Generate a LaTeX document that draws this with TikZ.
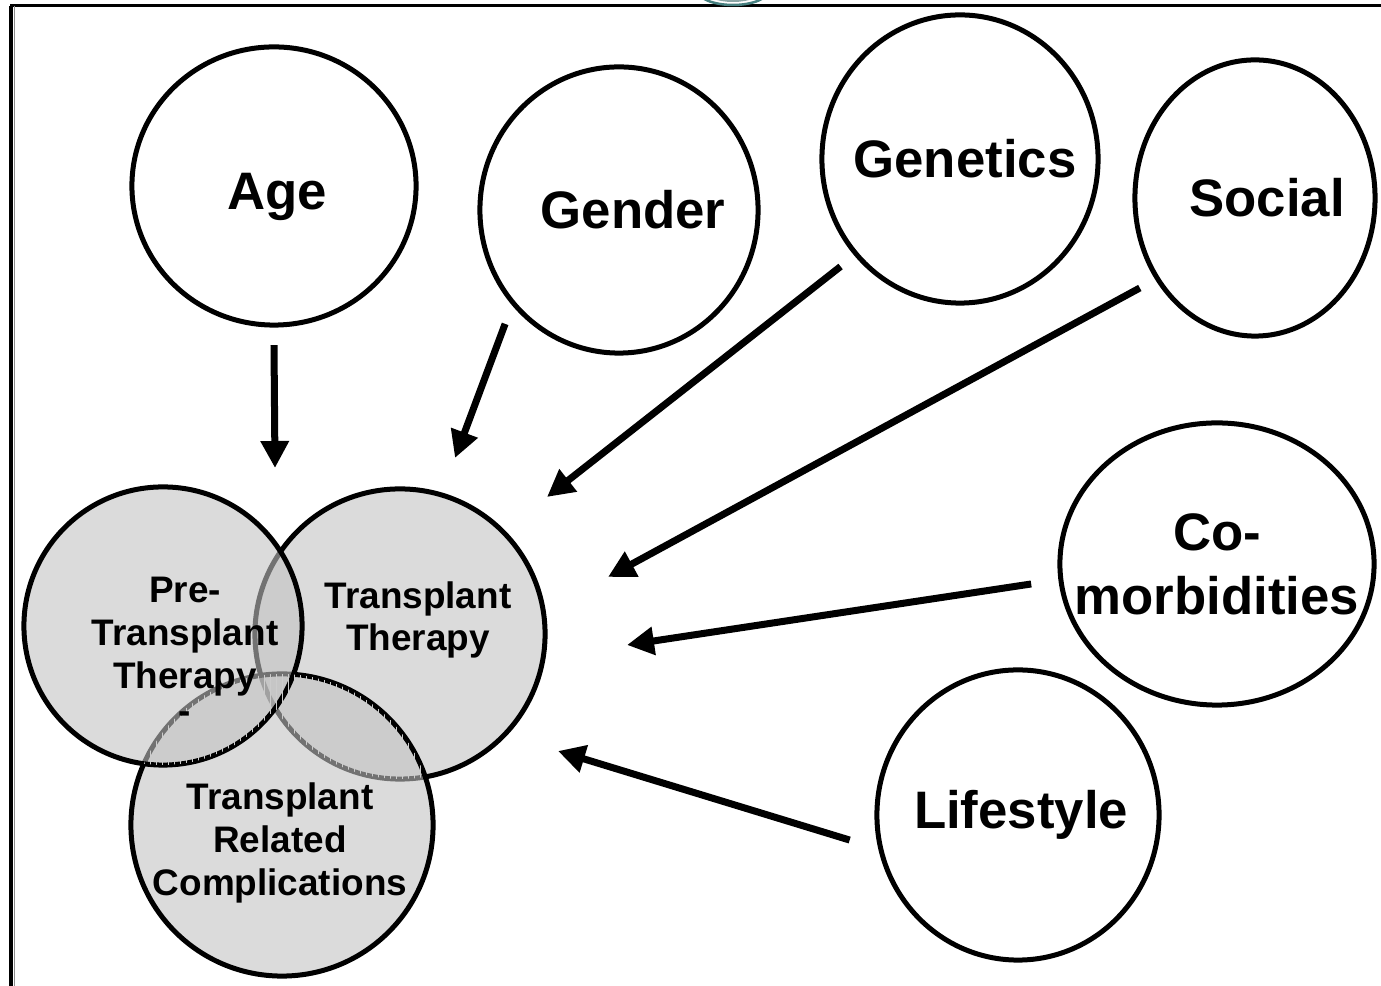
\documentclass[tikz,border=0pt]{standalone}
\usepackage{fontspec}
\setmainfont{Liberation Sans}
\usetikzlibrary{shapes.geometric, arrows.meta, positioning}
\tikzstyle{factor} = [ellipse, draw=black, line width=0.05cm, inner sep=0pt, outer sep=0.2cm, align=center, font=\fontsize{15}{18.2}\selectfont\bfseries]
\tikzstyle{venn} = [circle, draw=black, line width=0.05cm, fill=black!24, fill opacity=0.59, inner sep=0pt]
\tikzstyle{venntext} = [align=center, font=\fontsize{10.5}{12.2}\selectfont\bfseries]
\tikzstyle{hatch} = [black!20, line width=0.004cm]
\tikzstyle{arrow} = [line width=0.07cm, -{Triangle[length=0.27cm, width=0.27cm]}]
% text that does not widen its circle (optional shift to the right)
\newcommand{\ctr}[2][0pt]{\makebox[0pt]{\hspace*{#1}#2}}

\begin{document}
\begin{tikzpicture}[x=0.01cm, y=-0.01cm]
\useasboundingbox (0,0) rectangle (1381,986);
% frame and clipped mark at the top
\draw[line width=0.03cm] (10,6) -- (1381,6);
\draw[line width=0.03cm] (11,6) -- (11,986);
\draw[black!45, line width=0.015cm] (14.5,6) -- (14.5,986);
\draw[teal!45!gray, line width=0.025cm] (733,-10) ellipse [x radius=36, y radius=15];
\draw[teal!30!gray!70, line width=0.02cm] (733,-10) ellipse [x radius=28, y radius=11];

% influencing factors
\node (age) [factor, minimum width=2.84cm, minimum height=2.78cm, text height=16.5pt] at (274,186) {\ctr[0.06cm]{Age}};
\node (gender) [factor, minimum width=2.78cm, minimum height=2.86cm] at (619,210) {\ctr[0.28cm]{Gender}};
\node (genetics) [factor, minimum width=2.76cm, minimum height=2.88cm] at (960,159) {\ctr[0.1cm]{Genetics}};
\node (social) [factor, minimum width=2.40cm, minimum height=2.76cm] at (1255,198) {\ctr[0.24cm]{Social}};
\node (comorb) [factor, minimum width=3.14cm, minimum height=2.82cm] at (1217,564) {\ctr{Co-}\\\ctr{morbidities}};
\node (lifestyle) [factor, minimum width=2.82cm, minimum height=2.90cm] at (1018,815) {\ctr[0.06cm]{Lifestyle}};

% venn diagram
\node (tx) [venn, minimum size=2.90cm] at (400,634) {};
\node (trc) [venn, minimum size=3.02cm] at (282,825) {};
\node (pretx) [venn, minimum size=2.78cm] at (163,626) {};
\begin{scope}
  \clip (trc.center) circle (151);
  \clip (pretx.center) circle (139);
  \foreach \x in {120,126,...,320} \draw[hatch] (\x,600) -- (\x,800);
\end{scope}
\begin{scope}
  \clip (trc.center) circle (151);
  \clip (tx.center) circle (145);
  \foreach \x in {240,246,...,460} \draw[hatch] (\x,600) -- (\x,800);
\end{scope}
\node (pretxText) [venntext] at (185,650) {Pre-\\Transplant\\Therapy\\[-0.08cm]-};
\node (txText) [venntext] at (418,620) {Transplant\\Therapy};
\node (trcText) [venntext] at (280,843) {Transplant\\Related\\Complications};

% arrow tips
\coordinate (ageTip) at (275,468);
\coordinate (genderTip) at (455,458);
\coordinate (geneticsTip) at (547,497);
\coordinate (socialTip) at (608,577);
\coordinate (comorbTip) at (627,645);
\coordinate (lifestyleTip) at (558,751);

\draw [arrow] (age.270) -- (ageTip);
\draw [arrow] (gender.225) -- (genderTip);
\draw [arrow] (genetics.222) -- (geneticsTip);
\draw [arrow] (social.218) -- (socialTip);
\draw [arrow, shorten <=0.1cm] (comorb.186) -- (comorbTip);
\draw [arrow, shorten <=0.1cm] (lifestyle.190) -- (lifestyleTip);
\end{tikzpicture}
\end{document}
